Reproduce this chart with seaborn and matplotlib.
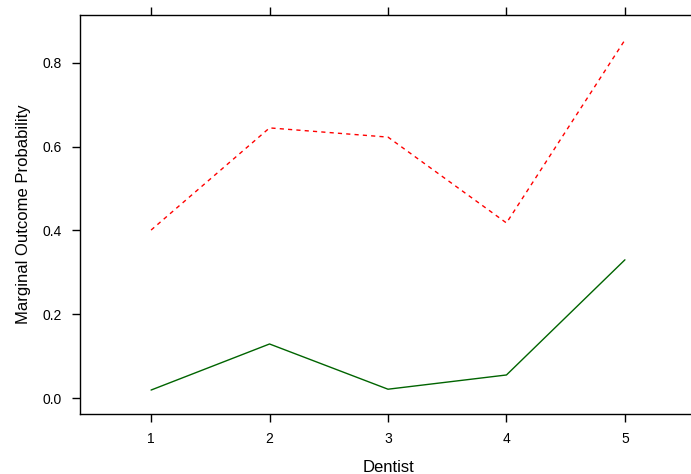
import matplotlib
matplotlib.use("Agg")
import matplotlib.pyplot as plt
import seaborn as sns
import pandas as pd

dentist = [1, 2, 3, 4, 5]
upper_prob = [0.401, 0.645, 0.623, 0.418, 0.855]
lower_prob = [0.019, 0.129, 0.021, 0.055, 0.330]
y_ticks = [0.0, 0.2, 0.4, 0.6, 0.8]

sns.set_theme(style="white")
plt.rcParams['font.family'] = ['Liberation Sans', 'DejaVu Sans']

df = pd.DataFrame({
    "Dentist": dentist * 2,
    "prob": upper_prob + lower_prob,
    "series": ["upper"] * 5 + ["lower"] * 5,
})

fig = plt.figure(figsize=(6.91, 4.74), dpi=100)
ax = fig.add_axes([80 / 691, 60 / 474, 616 / 691, 399 / 474])

sns.lineplot(data=df[df.series == "upper"], x="Dentist", y="prob", ax=ax,
             color="#FF0000", lw=1, linestyle=(0, (3, 3)))
sns.lineplot(data=df[df.series == "lower"], x="Dentist", y="prob", ax=ax,
             color="#006400", lw=1)

ax.set_xlim(0.4, 5.6)
ax.set_ylim(-0.0382, 0.9146)
ax.set_xticks(dentist)
ax.set_xticklabels([str(d) for d in dentist])
ax.set_yticks(y_ticks)
ax.set_yticklabels([f"{v:.1f}" for v in y_ticks])

for s in ["left", "bottom", "top"]:
    ax.spines[s].set_visible(True)
    ax.spines[s].set_color("black")
    ax.spines[s].set_linewidth(1)
ax.spines["right"].set_visible(False)

ax.tick_params(axis="x", which="both", direction="out", length=6, width=1,
               color="black", top=True, labeltop=False, bottom=True,
               labelsize=10, pad=7, labelcolor="black")
ax.tick_params(axis="y", which="both", direction="out", length=6, width=1,
               color="black", left=True, right=False,
               labelsize=10, pad=7, labelcolor="black")

ax.set_xlabel("Dentist", fontsize=12, color="black", labelpad=10)
ax.set_ylabel("Marginal Outcome Probability", fontsize=12, color="black", labelpad=8)
ax.grid(False)

fig.savefig("out.png", dpi=100)
